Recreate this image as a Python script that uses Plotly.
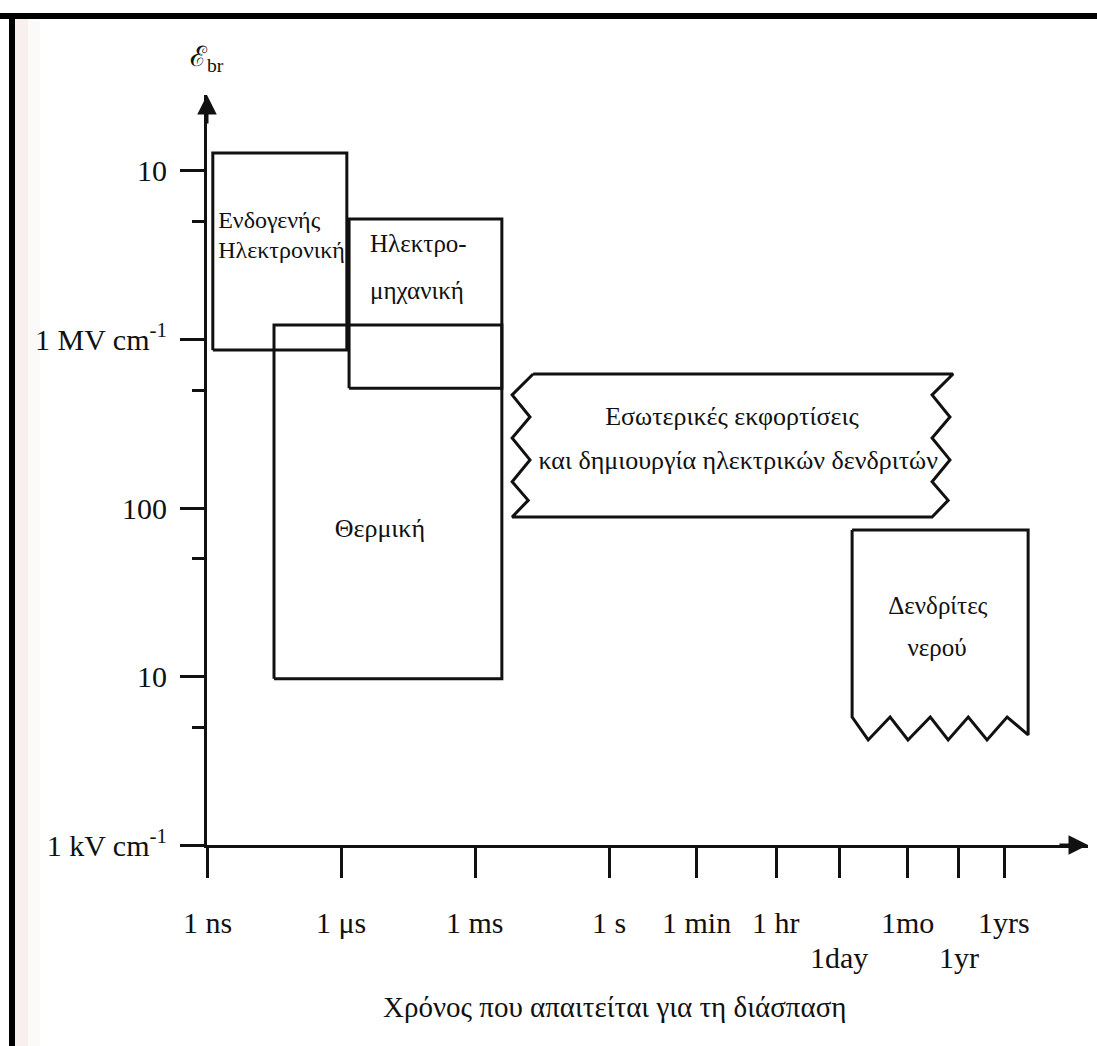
import numpy as np
import plotly.graph_objects as go

W, H = 1097, 1046
FONT = "Liberation Serif, DejaVu Serif, serif"
INK = "#111111"

# ---- axes: time (decades of seconds, as laid out on the axis) and field (kV/cm) ----
time_labels = ["1 ns", "1 μs", "1 ms", "1 s", "1 min", "1 hr", "1day", "1mo", "1yr", "1yrs"]
time_ticks = [-9, -6, -3, 0, 1.95, 3.74, 5.15, 6.67, 7.83, 8.84]
time_label_lowered = [False, False, False, False, False, False, True, False, True, False]

field_ticks = [1, 10, 100, 1000, 10000]
field_labels = ["1 kV cm<sup>-1</sup>", "10", "100", "1 MV cm<sup>-1</sup>", "10"]
field_minor = [5, 50, 500, 5000]

# ---- breakdown regions: time span (decades of s) and field span (kV/cm) ----
intrinsic_t = [-8.87, -5.87]
intrinsic_E = [867, 12800]
electromech_t = [-5.82, -2.40]
electromech_E = [513, 5190]
thermal_t = [-7.50, -2.40]
thermal_E = [9.7, 1220]

# partial discharges / electrical trees: torn strip with zig-zag ends
pd_left_t = [-1.70, -2.17, -1.77, -2.17, -1.77, -2.17, -1.81, -2.17]
pd_right_t = [7.70, 7.23, 7.63, 7.23, 7.63, 7.23, 7.59, 7.23]
pd_edge_E = [624, 469, 347, 260, 193, 143, 111, 88.5]

# water trees: box with a saw-tooth lower edge
wt_t = [5.44, 9.38]
wt_top_E = 74
wt_saw_t = [5.44, 5.80, 6.29, 6.69, 7.19, 7.59, 8.04, 8.46, 8.91, 9.38]
wt_saw_E = [5.75, 4.2, 5.75, 4.2, 5.75, 4.2, 5.75, 4.2, 5.75, 4.5]

X_RANGE = [-9, 10.72]
Y_RANGE = [0, 4.451]  # log10(kV/cm)

# plot-area placement on the page
L, R, T, B = 207, 9, 95, 201
PW, PH = W - L - R, H - T - B


def px(xp):
    return (xp - L) / PW


def py(yp):
    return (H - B - yp) / PH


def rect_path(t, E):
    return [t[0], t[1], t[1], t[0], t[0]], [E[0], E[0], E[1], E[1], E[0]]


fig = go.Figure()
line = dict(color=INK, width=3)

for t, E in [(intrinsic_t, intrinsic_E), (electromech_t, electromech_E), (thermal_t, thermal_E)]:
    xs, ys = rect_path(t, E)
    fig.add_trace(go.Scatter(x=xs, y=ys, mode="lines", line=line, hoverinfo="skip"))

pd_x = [pd_left_t[0], pd_right_t[0]] + pd_right_t[1:] + pd_left_t[::-1]
pd_y = [pd_edge_E[0], pd_edge_E[0]] + pd_edge_E[1:] + pd_edge_E[::-1]
fig.add_trace(go.Scatter(x=pd_x, y=pd_y, mode="lines", line=line, hoverinfo="skip"))

wt_x = [wt_t[0], wt_t[1]] + wt_saw_t[::-1] + [wt_t[0]]
wt_y = [wt_top_E, wt_top_E] + wt_saw_E[::-1] + [wt_top_E]
fig.add_trace(go.Scatter(x=wt_x, y=wt_y, mode="lines", line=line, hoverinfo="skip"))

# region captions: text, time, field, anchor, size
captions = [
    ("Ενδογενής", -8.75, 5000, "middle right", 24),
    ("Ηλεκτρονική", -8.75, 3300, "middle right", 24),
    ("Ηλεκτρο-", -5.35, 3600, "middle right", 25),
    ("μηχανική", -5.35, 1900, "middle right", 25),
    ("Θερμική", -5.13, 74, "middle center", 26),
    ("Εσωτερικές εκφορτίσεις", 2.75, 340, "middle center", 26),
    ("και δημιουργία ηλεκτρικών δενδριτών", 2.89, 185, "middle center", 26),
    ("Δενδρίτες", 7.36, 25.5, "middle center", 25),
    ("νερού", 7.34, 14.4, "middle center", 25),
]
for txt, x, y, pos, size in captions:
    fig.add_trace(go.Scatter(x=[x], y=[y], mode="text", text=[txt], textposition=pos,
                             textfont=dict(family=FONT, size=size, color=INK),
                             hoverinfo="skip"))

annotations = []
# time tick labels
for lab, tv, low in zip(time_labels, time_ticks, time_label_lowered):
    annotations.append(dict(x=tv, xref="x", y=py(957 if low else 922), yref="paper",
                            text=lab, showarrow=False, xanchor="center", yanchor="middle",
                            font=dict(family=FONT, size=30, color=INK)))
# axis title and field symbol
annotations.append(dict(x=px(614), xref="paper", y=py(1007), yref="paper",
                        text="Χρόνος που απαιτείται για τη διάσπαση", showarrow=False,
                        xanchor="center", yanchor="middle",
                        font=dict(family=FONT, size=29, color=INK)))
annotations.append(dict(x=px(207), xref="paper", y=py(58), yref="paper",
                        text="ℰ<sub>br</sub>", showarrow=False,
                        xanchor="center", yanchor="middle",
                        font=dict(family=FONT, size=28, color=INK)))
# arrowheads at the ends of both axes
annotations.append(dict(x=X_RANGE[1], y=Y_RANGE[0], xref="x", yref="y", text="",
                        showarrow=True, arrowhead=2, arrowsize=1.3, arrowwidth=3,
                        arrowcolor=INK, ax=-30, ay=0))
annotations.append(dict(x=X_RANGE[0], y=Y_RANGE[1], xref="x", yref="y", text="",
                        showarrow=True, arrowhead=2, arrowsize=1.3, arrowwidth=3,
                        arrowcolor=INK, ax=0, ay=30))

shapes = [
    # faint tinted strip near the left edge of the page
    dict(type="rect", xref="paper", yref="paper", x0=px(15), x1=px(28), y0=py(H), y1=py(19),
         fillcolor="rgba(235,210,210,0.35)", line=dict(width=0), layer="below"),
    dict(type="rect", xref="paper", yref="paper", x0=px(28), x1=px(40), y0=py(H), y1=py(19),
         fillcolor="rgba(240,220,220,0.18)", line=dict(width=0), layer="below"),
    # page frame: top and left bars
    dict(type="rect", xref="paper", yref="paper", x0=px(0), x1=px(W), y0=py(19), y1=py(13),
         fillcolor="black", line=dict(width=0)),
    dict(type="rect", xref="paper", yref="paper", x0=px(9), x1=px(15), y0=py(H), y1=py(13),
         fillcolor="black", line=dict(width=0)),
]

fig.update_layout(
    width=W, height=H,
    margin=dict(l=L, r=R, t=T, b=B, pad=0),
    paper_bgcolor="white", plot_bgcolor="white",
    showlegend=False,
    annotations=annotations,
    shapes=shapes,
    xaxis=dict(range=X_RANGE, showgrid=False, zeroline=False, showline=True, linewidth=3,
               linecolor=INK, ticks="outside", ticklen=30, tickwidth=3, tickcolor=INK,
               tickmode="array", tickvals=time_ticks, showticklabels=False, fixedrange=True),
    yaxis=dict(type="log", range=Y_RANGE, showgrid=False, zeroline=False, showline=True,
               linewidth=3, linecolor=INK, ticks="outside", ticklen=24, tickwidth=3,
               tickcolor=INK, tickmode="array", tickvals=field_ticks, ticktext=field_labels,
               tickfont=dict(family=FONT, size=30, color=INK), ticklabelstandoff=7,
               minor=dict(tickmode="array", tickvals=field_minor, ticks="outside", ticklen=12,
                          tickwidth=3, tickcolor=INK, showgrid=False),
               fixedrange=True),
)

fig.write_html("out.html")
